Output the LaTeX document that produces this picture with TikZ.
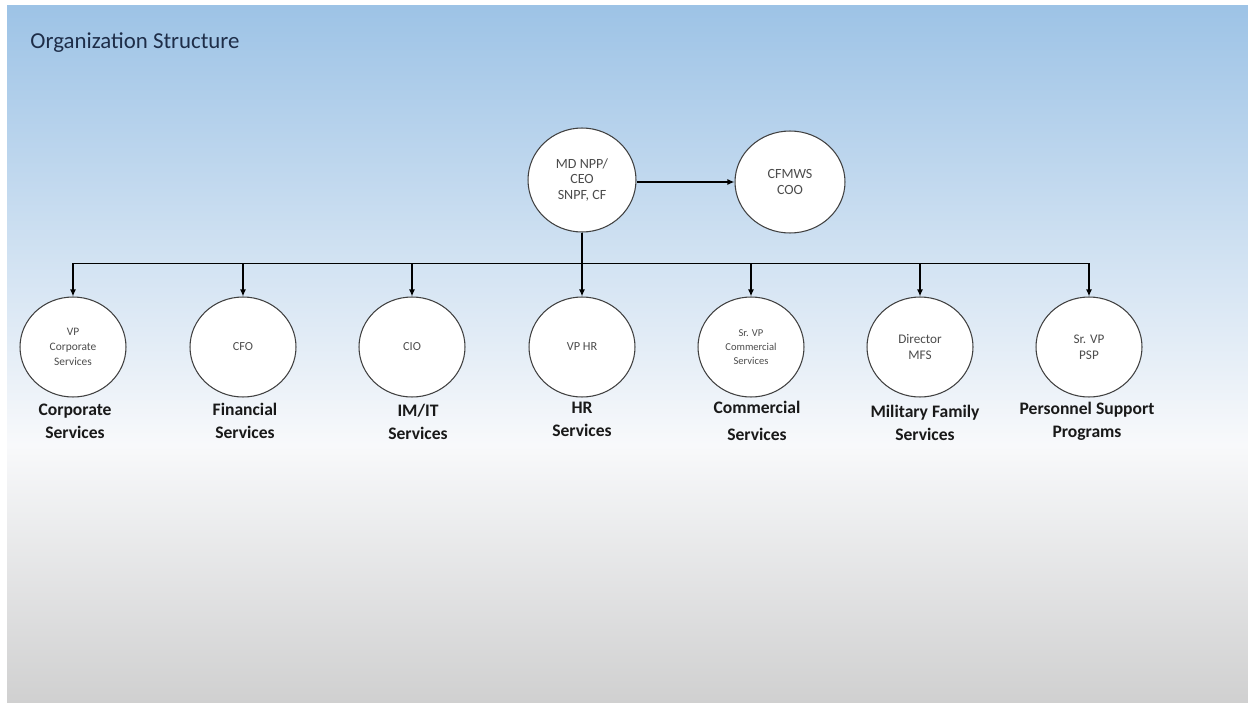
\documentclass[tikz,border=0pt]{standalone}
\usepackage{fontspec}
\setmainfont{Carlito}
\usetikzlibrary{arrows.meta,shapes.geometric}
\definecolor{slidetop}{RGB}{157,195,230}
\definecolor{slidemid}{RGB}{248,249,251}
\definecolor{slidebot}{RGB}{208,208,208}
\definecolor{titleblue}{RGB}{30,45,72}
\tikzset{
  role/.style={ellipse, draw=black!75, line width=0.6pt, fill=white, minimum width=2.12cm, minimum height=2.0cm, inner sep=0pt, align=center, text=black!70},
  unit/.style={align=center, font=\bfseries\fontsize{10}{13}\selectfont, text=black!90},
  link/.style={line width=0.8pt, -{Latex[length=1.4mm,width=1.2mm]}},
}

\begin{document}
\begin{tikzpicture}[x=0.02cm, y=-0.02cm]
		%%%%% START %%%%%
		\useasboundingbox (0,0) rectangle (1248,703);
		\fill[white] (0,0) rectangle (1248,703);
		\shade[top color=slidetop, bottom color=slidemid] (7,5) rectangle (1248,445);
		\shade[top color=slidemid, bottom color=slidebot] (7,445) rectangle (1248,703);
		
		\node[font=\fontsize{13}{15}\selectfont, text=titleblue] (title) at (135,43) {Organization Structure};
		
		\node[role, minimum width=2.16cm, minimum height=2.08cm, font=\fontsize{8}{9}\selectfont] (ceo) at (582,180) {MD NPP/\\CEO\\SNPF, CF};
		\node[role, minimum width=2.2cm, minimum height=2.04cm, font=\fontsize{8}{9}\selectfont] (coo) at (790,182) {CFMWS\\COO};
		\draw[link] (ceo.east |- coo.west) -- (coo.west);
		
		\node[role, font=\fontsize{6.5}{8.5}\selectfont] (corp) at (73,347) {VP\\Corporate\\Services};
		\node[role, font=\fontsize{7}{8.5}\selectfont] (cfo) at (243,347) {CFO};
		\node[role, font=\fontsize{7}{8.5}\selectfont] (cio) at (412,347) {CIO};
		\node[role, font=\fontsize{7}{8.5}\selectfont] (hr) at (582,347) {VP HR};
		\node[role, font=\fontsize{6}{8}\selectfont] (comm) at (751,347) {Sr. VP\\Commercial\\Services};
		\node[role, font=\fontsize{7.5}{9}\selectfont] (mfs) at (920,347) {Director\\MFS};
		\node[role, font=\fontsize{7.5}{9}\selectfont] (psp) at (1089,347) {Sr. VP\\PSP};
		
		\foreach \n in {corp,cfo,cio,hr,comm,mfs,psp}
			\draw[link] (ceo.south) -- ++(0,31) -| (\n.north);
		
		\node[unit] (corplbl) at (75,421) {Corporate\\Services};
		\node[unit] (cfolbl) at (245,421) {Financial\\Services};
		\node[unit] (ciolbl) at (418,422) {IM/IT\\Services};
		\node[unit] (hrlbl) at (582,419) {HR\\Services};
		\node[unit, font=\bfseries\fontsize{10}{15.5}\selectfont] (commlbl) at (757,421) {Commercial\\Services};
		\node[unit] (mfslbl) at (925,423) {Military Family\\Services};
		\node[unit] (psplbl) at (1087,421) {Personnel Support\\Programs};
		%%%%% END %%%%%
\end{tikzpicture}
\end{document}
